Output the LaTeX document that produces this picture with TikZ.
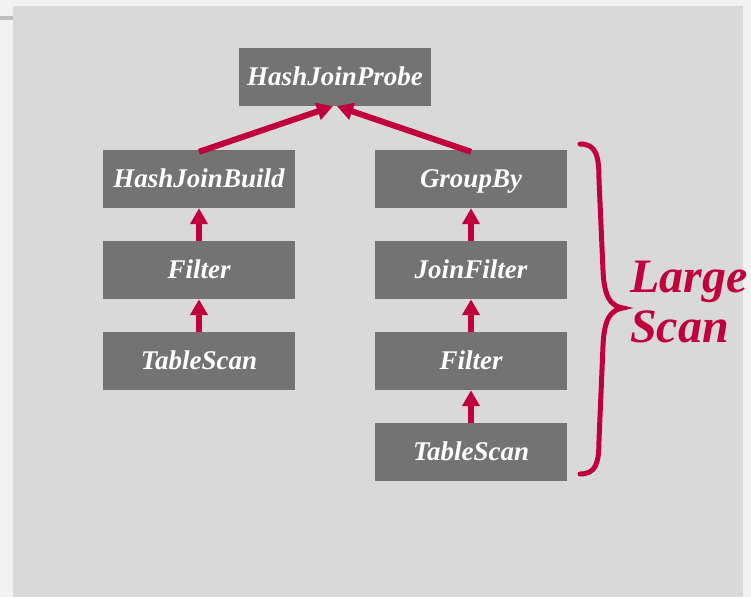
\documentclass[tikz,border=0pt]{standalone}
\usepackage{fontspec}
\setmainfont{Liberation Serif}
\usetikzlibrary{arrows.meta}
\definecolor{outerbg}{HTML}{F2F2F2}
\definecolor{panelbg}{HTML}{D9D9D9}
\definecolor{boxgray}{HTML}{737373}
\definecolor{crim}{HTML}{C0003C}
\definecolor{rulegray}{HTML}{BFBFBF}
\tikzset{
  opbox/.style={fill=boxgray, draw=none, minimum width=192pt, minimum height=58pt,
    inner sep=0pt, text=white, text height=16pt, text depth=0pt,
    font=\fontsize{27}{32}\selectfont\bfseries\itshape},
  flow/.style={draw=crim, line width=6pt,
    -{Triangle[width=17pt,length=16pt]}},
  bracestyle/.style={draw=crim, line width=5pt, line cap=round}
}
\begin{document}
\begin{tikzpicture}[x=1pt,y=-1pt]
\useasboundingbox (0,0) rectangle (751,597);
\fill[outerbg] (0,0) rectangle (751,597);
\fill[panelbg] (13,6) rectangle (743,597);
\fill[rulegray] (0,16) rectangle (13,20);

\node[opbox] (probe) at (335,77) {HashJoinProbe};
\node[opbox] (build) at (199,179) {HashJoinBuild};
\node[opbox] (lfilter) at (199,270) {Filter};
\node[opbox] (lscan) at (199,361) {TableScan};
\node[opbox] (group) at (471,179) {GroupBy};
\node[opbox] (jfilter) at (471,270) {JoinFilter};
\node[opbox] (rfilter) at (471,361) {Filter};
\node[opbox] (rscan) at (471,452) {TableScan};

\draw[flow] (lscan.north) -- (lfilter.south);
\draw[flow] (lfilter.north) -- (build.south);
\draw[flow] (rscan.north) -- (rfilter.south);
\draw[flow] (rfilter.north) -- (jfilter.south);
\draw[flow] (jfilter.north) -- (group.south);
\draw[flow] ([yshift=-2pt]build.north) -- ([xshift=-2pt]probe.south);
\draw[flow] ([yshift=-2pt]group.north) -- ([xshift=2pt]probe.south);

\coordinate (btop) at (580,144);
\coordinate (btip) at (623,308);
\coordinate (bbot) at (580,474);
\draw[bracestyle] (btop) .. controls (596,144) and (599,155) .. (599,180)
  -- (603,270) .. controls (604,296) and (610,306) .. (btip)
  .. controls (610,310) and (604,320) .. (603,346)
  -- (599,440) .. controls (599,463) and (596,474) .. (bbot);

\node[anchor=base west, inner sep=0pt, align=left, text=crim,
  font=\fontsize{48}{50}\selectfont\bfseries\itshape] (label) at (630,342) {Large\\Scan};
\end{tikzpicture}
\end{document}
